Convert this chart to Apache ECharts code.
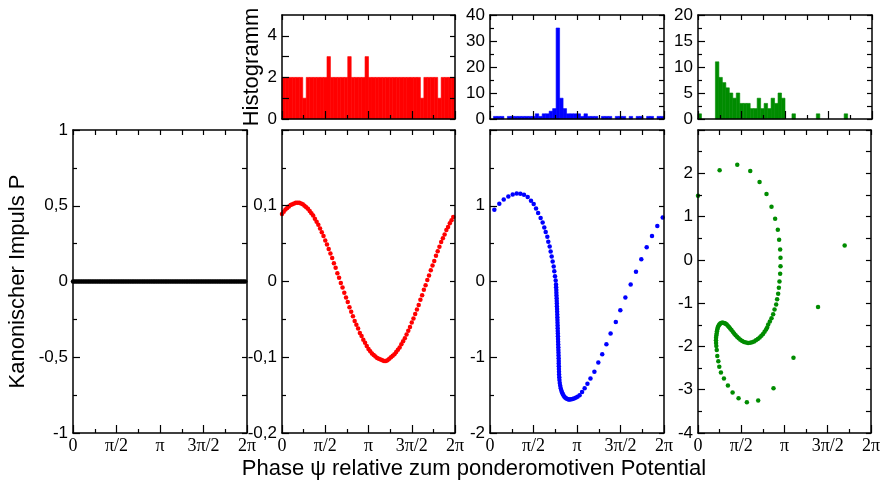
<!DOCTYPE html>
<html><head><meta charset="utf-8">
<script src="https://cdn.jsdelivr.net/npm/echarts@6/dist/echarts.min.js"></script>
<style>html,body{margin:0;padding:0;background:#fff}#c{width:883px;height:484px}</style>
</head><body><div id="c"></div>
<script>
// x values are in units of pi (0..2 = 0..2pi)
const xTickValues = [0, 0.5, 1, 1.5, 2];
const xTickLabels = ['0', 'π/2', 'π', '3π/2', '2π'];

const phaseGrid = [0,0.02,0.04,0.06,0.08,0.1,0.12,0.14,0.16,0.18,0.2,0.22,0.24,0.26,0.28,0.3,0.32,0.34,0.36,0.38,0.4,0.42,0.44,0.46,0.48,0.5,0.52,0.54,0.56,0.58,0.6,0.62,0.64,0.66,0.68,0.7,0.72,0.74,0.76,0.78,0.8,0.82,0.84,0.86,0.88,0.9,0.92,0.94,0.96,0.98,1,1.02,1.04,1.06,1.08,1.1,1.12,1.14,1.16,1.18,1.2,1.22,1.24,1.26,1.28,1.3,1.32,1.34,1.36,1.38,1.4,1.42,1.44,1.46,1.48,1.5,1.52,1.54,1.56,1.58,1.6,1.62,1.64,1.66,1.68,1.7,1.72,1.74,1.76,1.78,1.8,1.82,1.84,1.86,1.88,1.9,1.92,1.94,1.96,1.98];

const blackX = phaseGrid;
const blackP = [0,0,0,0,0,0,0,0,0,0,0,0,0,0,0,0,0,0,0,0,0,0,0,0,0,0,0,0,0,0,0,0,0,0,0,0,0,0,0,0,0,0,0,0,0,0,0,0,0,0,0,0,0,0,0,0,0,0,0,0,0,0,0,0,0,0,0,0,0,0,0,0,0,0,0,0,0,0,0,0,0,0,0,0,0,0,0,0,0,0,0,0,0,0,0,0,0,0,0,0];

const redX = phaseGrid;
const redP = [0.089,0.092,0.095,0.097,0.099,0.101,0.102,0.103,0.104,0.104,
0.104,0.103,0.102,0.100,0.098,0.096,0.093,0.090,0.087,0.083,
0.079,0.075,0.070,0.065,0.060,0.054,0.049,0.043,0.037,0.031,
0.024,0.018,0.011,0.005,-0.002,-0.008,-0.015,-0.021,-0.027,-0.034,
-0.040,-0.046,-0.052,-0.057,-0.062,-0.068,-0.072,-0.077,-0.081,-0.085,
-0.089,-0.092,-0.095,-0.097,-0.099,-0.101,-0.102,-0.103,-0.104,-0.105,
-0.105,-0.104,-0.102,-0.100,-0.098,-0.096,-0.093,-0.090,-0.087,-0.083,
-0.079,-0.075,-0.070,-0.065,-0.060,-0.054,-0.049,-0.043,-0.037,-0.031,
-0.024,-0.018,-0.011,-0.005,0.002,0.008,0.015,0.021,0.027,0.034,
0.040,0.046,0.052,0.057,0.062,0.068,0.072,0.077,0.081,0.085];

const blueX = [0.050,0.107,0.158,0.211,0.261,0.307,0.349,0.391,0.433,0.471,0.502,0.529,0.553,
0.582,0.605,0.624,0.640,0.659,0.670,0.686,0.697,0.709,0.720,0.732,0.739,0.747,0.755,
0.759,0.760,0.762,0.763,0.764,0.766,0.767,0.768,0.769,0.771,0.772,0.773,0.774,0.775,0.776,0.777,0.778,0.779,0.780,0.781,0.782,0.783,0.784,0.785,0.786,0.787,0.788,0.789,0.790,0.790,0.791,0.792,0.793,0.794,0.796,
0.798,0.802,0.807,0.813,0.820,0.828,0.836,0.845,0.855,0.866,0.878,0.890,0.903,0.917,0.932,0.948,0.965,0.985,1.006,1.030,1.058,1.088,1.120,1.155,1.200,1.245,
1.290,1.338,1.386,1.446,1.498,1.556,1.617,1.678,1.739,1.801,1.862,1.923,1.985];
const blueP = [0.947,1.026,1.083,1.123,1.149,1.162,1.158,1.145,1.114,1.066,1.022,0.965,0.905,
0.838,0.780,0.714,0.654,0.592,0.526,0.461,0.395,0.329,0.263,0.197,0.136,0.070,0.013,
-0.040,-0.076,-0.112,-0.148,-0.184,-0.220,-0.256,-0.292,-0.328,-0.364,-0.400,-0.436,-0.472,-0.508,-0.544,-0.580,-0.616,-0.652,-0.688,-0.724,-0.760,-0.796,-0.832,-0.868,-0.904,-0.940,-0.976,-1.012,-1.048,-1.084,-1.120,-1.156,-1.192,-1.228,-1.264,
-1.300,-1.340,-1.375,-1.410,-1.440,-1.465,-1.485,-1.505,-1.520,-1.535,-1.545,-1.552,-1.557,-1.558,-1.556,-1.552,-1.545,-1.535,-1.520,-1.500,-1.460,-1.410,-1.350,-1.280,-1.190,-1.070,
-0.960,-0.830,-0.685,-0.535,-0.380,-0.210,-0.040,0.130,0.295,0.452,0.600,0.732,0.846];

const greenX = [0.000,0.250,0.454,0.604,0.712,0.792,0.850,0.892,0.923,0.938,0.950,0.954,0.954,0.950,0.942,0.935,0.927,0.915,0.904,0.885,0.869,0.850,0.831,0.812,
0.800,0.787,0.770,0.752,0.733,0.713,0.692,0.670,0.648,0.625,0.602,0.579,0.556,0.533,0.511,0.490,0.470,0.452,0.435,0.418,0.402,0.387,0.372,0.358,0.345,0.332,0.320,0.309,0.298,0.288,
0.278,0.268,0.258,0.249,0.241,0.234,0.228,0.223,0.219,0.216,0.212,0.209,0.208,0.209,0.212,0.217,
0.223,0.235,0.246,0.265,0.300,0.346,0.400,0.469,0.565,0.696,0.873,1.104,1.388,1.696];
const greenP = [1.479,2.070,2.200,2.050,1.800,1.520,1.226,0.950,0.697,0.467,0.238,0.046,-0.146,-0.322,-0.498,-0.644,-0.782,-0.912,-1.034,-1.149,-1.257,-1.349,-1.425,-1.494,
-1.560,-1.610,-1.660,-1.710,-1.755,-1.795,-1.830,-1.860,-1.885,-1.905,-1.915,-1.918,-1.910,-1.895,-1.872,-1.845,-1.810,-1.775,-1.740,-1.700,-1.660,-1.620,-1.585,-1.550,-1.520,-1.495,-1.478,-1.465,-1.458,-1.455,
-1.455,-1.460,-1.470,-1.490,-1.510,-1.540,-1.570,-1.610,-1.650,-1.700,-1.750,-1.800,-1.860,-1.920,-1.990,-2.084,
-2.222,-2.345,-2.467,-2.605,-2.743,-2.904,-3.065,-3.195,-3.287,-3.249,-2.966,-2.261,-1.088,0.330];

// histogram counts, 50 bins over 0..2pi
const histRed = [2,2,2,2,2,2,1,2,2,2,2,2,2,3,2,2,2,2,2,3,2,2,2,2,3,2,2,2,2,2,2,2,2,2,2,2,2,2,2,2,1,2,2,2,2,1,2,2,2,2];
const histBlue = [0,1,1,1,0,1,1,1,1,1,1,1,1,2,1,2,2,3,4,35,8,4,2,2,2,2,1,2,1,1,1,0,1,1,1,0,1,1,1,0,1,0,1,1,0,1,1,0,1,1];
const histGreen = [1,0,0,0,0,11,8,7,6,5,4,5,3,3,3,2,2,4,2,3,2,4,3,5,4,0,0,1,0,0,0,0,0,0,1,0,0,0,0,0,0,0,1,0,0,0,0,0,0,0];

const RED = '#ff0000', BLUE = '#0000ff', GREEN = '#008c00', BLACK = '#000000';
const SANS = '"Liberation Sans", Arial, sans-serif';
const SERIF = '"Liberation Serif", "Times New Roman", serif';

const grids = [
  {left: 73, top: 130, width: 174, height: 303},
  {left: 282, top: 130, width: 173, height: 303},
  {left: 490, top: 130, width: 174, height: 303},
  {left: 698, top: 130, width: 174, height: 303},
  {left: 282, top: 15, width: 173, height: 104},
  {left: 490, top: 15, width: 174, height: 104},
  {left: 698, top: 15, width: 174, height: 104}
];

const lineS = {color: '#000', width: 1.5};
const tickS = {color: '#000', width: 1.2};

function xFmt(v) {
  const i = xTickValues.findIndex(t => Math.abs(t - v) < 1e-6);
  return i >= 0 ? xTickLabels[i] : '';
}
function commaFmt(v) { return String(+(+v).toFixed(3)).replace('.', ','); }

const xAxis = [], yAxis = [];
function addX(g, showLabels) {
  xAxis.push({type: 'value', gridIndex: g, min: 0, max: 2, interval: 0.5, position: 'bottom', z: 5,
    axisLine: {show: true, onZero: false, lineStyle: lineS},
    axisTick: {show: true, inside: true, length: 8, lineStyle: tickS},
    minorTick: {show: true, splitNumber: 2, length: 4, lineStyle: tickS},
    axisLabel: {show: showLabels, formatter: xFmt, fontFamily: SERIF, fontSize: 18, color: '#000', margin: 4,
      showMinLabel: true, showMaxLabel: true},
    splitLine: {show: false}, minorSplitLine: {show: false}});
  xAxis.push({type: 'value', gridIndex: g, min: 0, max: 2, interval: 0.25, position: 'top', z: 5,
    axisLine: {show: true, onZero: false, lineStyle: lineS},
    axisTick: {show: true, inside: true, length: 5, lineStyle: tickS},
    axisLabel: {show: false}, splitLine: {show: false}});
}
function addY(g, min, max, interval, fmt, showMax, name, nameGap, rightInterval, minor) {
  const left = {type: 'value', gridIndex: g, min: min, max: max, interval: interval, position: 'left', z: 5,
    axisLine: {show: true, onZero: false, lineStyle: lineS},
    axisTick: {show: true, inside: true, length: 7, lineStyle: tickS},
    minorTick: {show: minor, splitNumber: 2, length: 4, lineStyle: tickS},
    axisLabel: {formatter: fmt, fontFamily: SANS, fontSize: 17, color: '#000', margin: 5,
      showMaxLabel: showMax, showMinLabel: true},
    splitLine: {show: false}, minorSplitLine: {show: false}};
  if (name) {
    left.name = name; left.nameLocation = 'middle'; left.nameGap = nameGap; left.nameRotate = 90;
    left.nameTextStyle = {fontFamily: SANS, fontSize: 22, color: '#000'};
  }
  yAxis.push(left);
  yAxis.push({type: 'value', gridIndex: g, min: min, max: max, interval: rightInterval, position: 'right', z: 5,
    axisLine: {show: true, onZero: false, lineStyle: lineS},
    axisTick: {show: true, inside: true, length: 5, lineStyle: tickS},
    axisLabel: {show: false}, splitLine: {show: false}});
}

// scatter panels
addX(0, true); addY(0, -1, 1, 0.5, commaFmt, true, 'Kanonischer Impuls P', 44, 0.25, true);
addX(1, true); addY(1, -0.2, 0.2, 0.1, commaFmt, false, null, 0, 0.05, true);
addX(2, true); addY(2, -2, 2, 1, commaFmt, false, null, 0, 0.5, true);
addX(3, true); addY(3, -4, 3, 1, commaFmt, false, null, 0, 0.5, true);
// histograms
addX(4, false); addY(4, 0, 5, 1, v => (v % 2 === 0 ? String(v) : ''), false, 'Histogramm', 19, 1, false);
addX(5, false); addY(5, 0, 40, 10, v => String(v), true, null, 0, 5, true);
addX(6, false); addY(6, 0, 20, 5, v => String(v), true, null, 0, 2.5, true);

function zip(a, b) { return a.map((v, i) => [v, b[i]]); }
function scatter(g, xs, ps, color) {
  return {type: 'scatter', xAxisIndex: 2 * g, yAxisIndex: 2 * g, data: zip(xs, ps),
    symbolSize: 4.5, itemStyle: {color: color, opacity: 1}, silent: true, z: 2};
}
const binW = 2 / histRed.length;
function hist(g, counts, color) {
  return {type: 'custom', xAxisIndex: 2 * g, yAxisIndex: 2 * g, silent: true, z: 2,
    data: counts.map((c, i) => [i, c]).filter(d => d[1] > 0),
    renderItem: function (params, api) {
      const i = api.value(0), c = api.value(1);
      const p0 = api.coord([i * binW, 0]);
      const p1 = api.coord([(i + 1) * binW, c]);
      return {type: 'rect', shape: {x: p0[0], y: p1[1], width: p1[0] - p0[0], height: p0[1] - p1[1]},
        style: {fill: color, stroke: color, lineWidth: 0.6}};
    }};
}

const chart = echarts.init(document.getElementById('c'), null, {renderer: 'canvas'});
chart.setOption({
  animation: false,
  backgroundColor: '#fff',
  grid: grids,
  xAxis: xAxis,
  yAxis: yAxis,
  series: [
    scatter(0, blackX, blackP, BLACK),
    scatter(1, redX, redP, RED),
    scatter(2, blueX, blueP, BLUE),
    scatter(3, greenX, greenP, GREEN),
    hist(4, histRed, RED),
    hist(5, histBlue, BLUE),
    hist(6, histGreen, GREEN)
  ],
  graphic: [{type: 'text', x: 474, y: 469,
    style: {text: 'Phase ψ relative zum ponderomotiven Potential', fontFamily: SANS, fontSize: 22,
      fill: '#000', align: 'center', verticalAlign: 'middle'}}]
});
</script></body></html>
